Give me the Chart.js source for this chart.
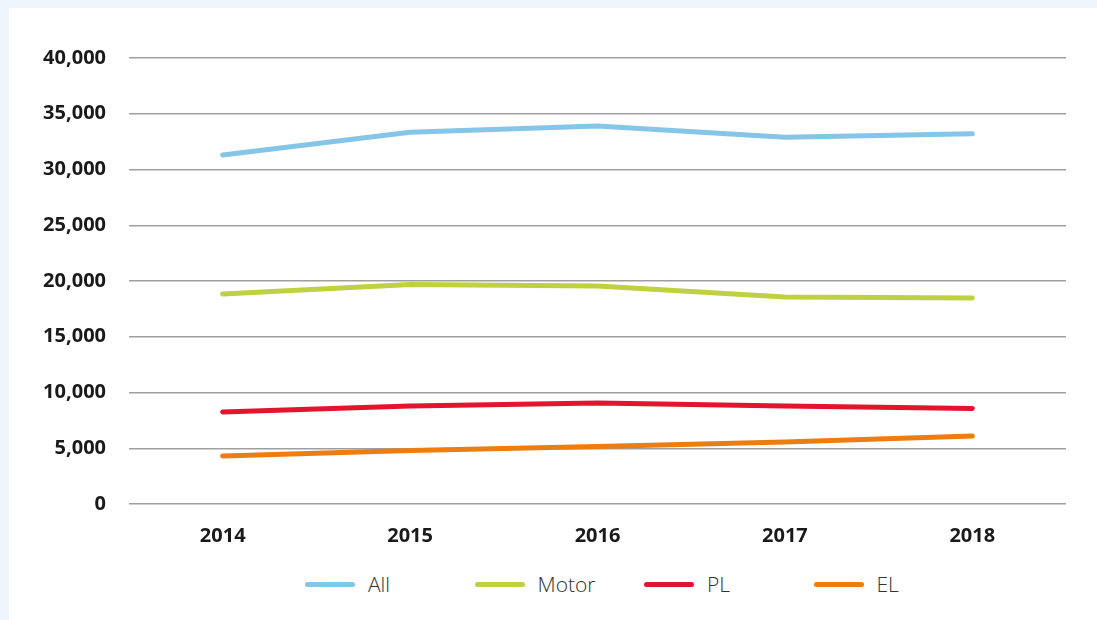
<!DOCTYPE html>
<html>
<head>
<meta charset="utf-8">
<script src="https://cdn.jsdelivr.net/npm/chart.js@4/dist/chart.umd.min.js"></script>
<style>
  html, body { margin: 0; padding: 0; }
  body { width: 1097px; height: 620px; background: #eff5fc; position: relative; overflow: hidden; }
  #panel { position: absolute; left: 9px; top: 8px; width: 1088px; height: 612px; background: #fff; }
  #wrap { position: absolute; left: 0; top: 0; width: 1088px; height: 550px; }
  #legend { position: absolute; left: 296px; top: 561px; height: 30px;
            display: flex; align-items: center;
            font-family: 'Open Sans', sans-serif; font-weight: 300; font-size: 21px; color: #333; }
  .item { display: flex; align-items: center; width: 169.5px; }
  .item:last-child { width: auto; }
  .swatch { width: 50px; height: 5px; border-radius: 3px; margin-right: 13px; }
</style>
</head>
<body>
<div id="panel">
  <div id="wrap"><canvas id="chart"></canvas></div>
  <div id="legend"></div>
</div>
<script>
// data
const years = ['2014', '2015', '2016', '2017', '2018']
const allVals   = [31300, 33350, 33900, 32900, 33200]
const motorVals = [18830, 19690, 19550, 18560, 18470]
const plVals    = [8250, 8790, 9060, 8790, 8560]
const elVals    = [4300, 4800, 5160, 5560, 6100]
const yTicks = [0, 5000, 10000, 15000, 20000, 25000, 30000, 35000, 40000]

const COLORS = {
  all:   '#85c5e8',
  motor: '#bfd140',
  pl:    '#e3142d',
  el:    '#ee7d11',
}

const line = (label, data, color) => ({
  label,
  data,
  borderColor: color,
  backgroundColor: color,
  borderWidth: 5,
  borderCapStyle: 'round',
  borderJoinStyle: 'round',
  pointRadius: 0,
  tension: 0,
  fill: false,
})

const tickFont = { family: "'Open Sans', sans-serif", size: 20, weight: 'bold' }

const chart = new Chart(document.getElementById('chart'), {
  type: 'line',
  data: {
    labels: years,
    datasets: [
      line('All', allVals, COLORS.all),
      line('Motor', motorVals, COLORS.motor),
      line('PL', plVals, COLORS.pl),
      line('EL', elVals, COLORS.el),
    ],
  },
  options: {
    responsive: true,
    maintainAspectRatio: false,
    animation: false,
    layout: { padding: { top: 50, right: 31, left: 0, bottom: 0 } },
    plugins: {
      legend: { display: false },  // legend is in HTML
      tooltip: { enabled: false },
    },
    scales: {
      x: {
        offset: true,
        grid: { display: false },
        border: { display: false },
        ticks: { color: '#1a1a1a', font: tickFont, padding: 12 },
        afterFit: s => { s.height = 54 },
      },
      y: {
        min: yTicks[0],
        max: yTicks[yTicks.length - 1],
        afterBuildTicks: s => { s.ticks = yTicks.map(v => ({ value: v })) },
        grid: { color: '#9f9f9f', lineWidth: 1.5, drawTicks: false },
        border: { display: false },
        ticks: { color: '#1a1a1a', font: tickFont, padding: 23, callback: v => v.toLocaleString('en-US') },
        afterFit: s => { s.width = 120 },
      },
    },
  },
})

// html legend built from the chart datasets
const legendEl = document.getElementById('legend')
chart.data.datasets.forEach(ds => {
  const item = document.createElement('div')
  item.className = 'item'
  item.innerHTML = `<span class="swatch" style="background:${ds.borderColor}"></span><span>${ds.label}</span>`
  legendEl.appendChild(item)
})
</script>
</body>
</html>
